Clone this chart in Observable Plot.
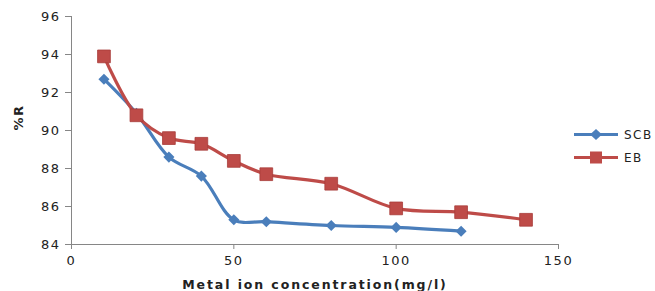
<!DOCTYPE html>
<html><head><meta charset="utf-8">
<script src="https://cdn.jsdelivr.net/npm/d3@7"></script>
<script src="https://cdn.jsdelivr.net/npm/@observablehq/plot@0.6"></script>
<style>
body{margin:0;background:#fff;font-family:"DejaVu Sans",sans-serif;}
#wrap{position:relative;width:655px;height:291px;}
#wrap svg text{letter-spacing:1.5px;}
#legend{position:absolute;left:574px;top:123px;font:12px "DejaVu Sans",sans-serif;letter-spacing:1.5px;color:#222;}
#legend div{display:flex;align-items:center;height:23px;}
#legend svg{margin-right:4px;}
</style></head>
<body><div id="wrap"><div id="legend"></div></div>
<script>
const seriesNames = ["SCB", "EB"];
const scbX = [10, 20, 30, 40, 50, 60, 80, 100, 120];
const scbY = [92.7, 90.9, 88.6, 87.6, 85.3, 85.2, 85.0, 84.9, 84.7];
const ebX = [10, 20, 30, 40, 50, 60, 80, 100, 120, 140];
const ebY = [93.9, 90.8, 89.6, 89.3, 88.4, 87.7, 87.2, 85.9, 85.7, 85.3];
const xTicks = [0, 50, 100, 150];
const yTicks = [84, 86, 88, 90, 92, 94, 96];
const xLabel = "Metal ion concentration(mg/l)";
const yLabel = "%R";
const colors = ["#4A7EBB", "#BE4B48"];

const scb = scbX.map((x, i) => ({x, y: scbY[i], s: seriesNames[0]}));
const eb = ebX.map((x, i) => ({x, y: ebY[i], s: seriesNames[1]}));

const chart = Plot.plot({
  width: 655, height: 291,
  marginLeft: 71, marginRight: 97, marginTop: 16, marginBottom: 47,
  style: {fontFamily: "DejaVu Sans", fontSize: "13px", color: "#222", background: "#fff"},
  x: {domain: [0, 150], ticks: xTicks, label: null, tickSize: 5},
  y: {domain: [84, 96], ticks: yTicks, label: null, tickSize: 6},
  marks: [
    Plot.axisY({ticks: yTicks, tickSize: 6, tickPadding: 5, stroke: "#868686", label: null, fontSize: 13}),
    Plot.axisX({ticks: xTicks, tickSize: 5, tickPadding: 6, stroke: "#868686", label: null, fontSize: 13}),
    Plot.ruleX([0], {stroke: "#868686"}),
    Plot.ruleY([84], {stroke: "#868686"}),
    Plot.line(scb, {x: "x", y: "y", stroke: colors[0], strokeWidth: 3.2, curve: "catmull-rom"}),
    Plot.dot(scb, {x: "x", y: "y", symbol: "diamond2", r: 5, fill: colors[0], stroke: "none"}),
    Plot.line(eb, {x: "x", y: "y", stroke: colors[1], strokeWidth: 3.2, curve: "catmull-rom"}),
    Plot.dot(eb, {x: "x", y: "y", symbol: "square", r: 7.2, fill: colors[1], stroke: "#a83c3a", strokeWidth: 0.8}),
    Plot.text([xLabel], {frameAnchor: "bottom", dy: 44, fontWeight: "bold", fontSize: 12.5, text: d => d}),
    Plot.text([yLabel], {frameAnchor: "left", dx: -53, rotate: -90, fontWeight: "bold", fontSize: 13, text: d => d})
  ]
});
d3.select(chart).selectAll("text").filter(function() { return this.textContent === xLabel; })
  .style("letter-spacing", "1.9px");
document.getElementById("wrap").prepend(chart);

const leg = document.getElementById("legend");
seriesNames.forEach((n, i) => {
  const row = document.createElement("div");
  const sym = i === 0
    ? `<rect x="0" y="7" width="44" height="3" fill="${colors[0]}"/><path d="M22 3 L28 8.5 L22 14 L16 8.5Z" fill="${colors[0]}"/>`
    : `<rect x="0" y="7" width="44" height="3" fill="${colors[1]}"/><rect x="16" y="2.5" width="12" height="12" fill="${colors[1]}"/>`;
  row.innerHTML = `<svg width="46" height="17">${sym}</svg><span>${n}</span>`;
  leg.appendChild(row);
});
</script></body></html>
